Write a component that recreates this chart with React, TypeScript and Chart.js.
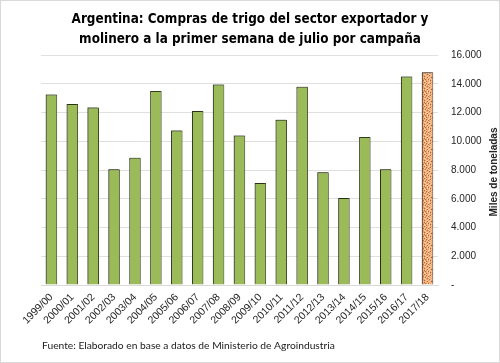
import React, { useEffect, useRef } from "react";
import { Chart, registerables } from "chart.js";

Chart.register(...registerables);

const campaigns = [
  "1999/00", "2000/01", "2001/02", "2002/03", "2003/04", "2004/05", "2005/06",
  "2006/07", "2007/08", "2008/09", "2009/10", "2010/11", "2011/12", "2012/13",
  "2013/14", "2014/15", "2015/16", "2016/17", "2017/18",
];
const purchases = [
  13250, 12600, 12350, 8050, 8850, 13500, 10750, 12100, 13950, 10400, 7100,
  11500, 13800, 7850, 6050, 10300, 8050, 14500, 14800,
];
const yTicks = [0, 2000, 4000, 6000, 8000, 10000, 12000, 14000, 16000];
const titleLines = [
  "Argentina: Compras de trigo del sector exportador y",
  "molinero a la primer semana de julio por campaña",
];
const yTitle = "Miles de toneladas";
const sourceText = "Fuente: Elaborado en base a datos de Ministerio de Agroindustria";

const GREEN = "#9bbb59";
const GREEN_BORDER = "#3b4a1e";

function makeSpeckle(): CanvasPattern | string {
  const rows = [
    "abacbaabcaba",
    "bbaaacbabaab",
    "acbabbacabba",
    "bacaabaabcab",
    "abbacabbaaba",
    "cabbabacbbac",
    "abaacbabaaba",
    "babaacabcbab",
    "aabcbaababca",
    "cbaabbcaabab",
    "abbacababbaa",
    "babaabcabacb",
  ];
  const colors: Record<string, string> = { a: "#eba26b", b: "#f6cca4", c: "#c4672e" };
  const c = document.createElement("canvas");
  c.width = 12;
  c.height = 12;
  const x = c.getContext("2d");
  if (!x) return "#eba26b";
  rows.forEach((r, j) => {
    for (let i = 0; i < r.length; i++) {
      x.fillStyle = colors[r[i]];
      x.fillRect(i, j, 1, 1);
    }
  });
  const p = x.createPattern(c, "repeat");
  return p || "#eba26b";
}

function fmt(v: number): string {
  if (v === 0) return "-";
  return String(v).replace(/\B(?=(\d{3})+(?!\d))/g, ".");
}

function fitFont(ctx: CanvasRenderingContext2D, text: string, weight: string, family: string, target: number): string {
  ctx.font = `${weight} 20px ${family}`;
  const w = ctx.measureText(text).width;
  const size = (20 * target) / w;
  return `${weight} ${size.toFixed(2)}px ${family}`;
}

export default function App() {
  const ref = useRef<HTMLCanvasElement | null>(null);

  useEffect(() => {
    const canvas = ref.current;
    if (!canvas) return;
    const speckle = makeSpeckle();
    const last = campaigns.length - 1;

    const decor = {
      id: "decor",
      beforeDatasetsDraw(chart: any) {
        const ctx = chart.ctx;
        ctx.save();
        ctx.shadowColor = "rgba(0,0,0,0.35)";
        ctx.shadowOffsetX = -1;
        ctx.shadowOffsetY = -1;
        ctx.shadowBlur = 1;
      },
      afterDatasetsDraw(chart: any) {
        chart.ctx.restore();
      },
      afterDraw(chart: any) {
        const ctx = chart.ctx;
        ctx.save();
        ctx.fillStyle = "#000";
        ctx.textAlign = "center";
        ctx.textBaseline = "alphabetic";
        const fam = "'DejaVu Sans Condensed', 'DejaVu Sans', sans-serif";
        ctx.font = fitFont(ctx, titleLines[0], "bold", fam, 357);
        ctx.fillText(titleLines[0], 250, 23);
        ctx.fillText(titleLines[1], 250, 43);

        ctx.textAlign = "left";
        ctx.font = fitFont(ctx, sourceText, "normal", "Lato", 293);
        ctx.fillStyle = "#1a1a1a";
        ctx.fillText(sourceText, 42, 349);

        ctx.translate(497, 172);
        ctx.rotate(-Math.PI / 2);
        ctx.textAlign = "center";
        ctx.font = "bold 10px 'Liberation Sans'";
        ctx.fillStyle = "#262626";
        ctx.fillText(yTitle, 0, 0);
        ctx.restore();

        ctx.save();
        ctx.strokeStyle = "#d9d9d9";
        ctx.lineWidth = 1;
        ctx.strokeRect(0.5, 0.5, 499, 362);
        ctx.restore();
      },
    };

    const chart = new Chart(canvas, {
      type: "bar",
      data: {
        labels: campaigns,
        datasets: [
          {
            data: purchases,
            backgroundColor: purchases.map((_, i) => (i === last ? speckle : GREEN)) as any,
            borderColor: purchases.map((_, i) => (i === last ? "#5b4636" : GREEN_BORDER)),
            borderWidth: 1,
            barPercentage: 0.55,
            categoryPercentage: 1,
          },
        ],
      },
      options: {
        responsive: false,
        animation: false,
        layout: { padding: { top: 55, left: 41, right: 0, bottom: 0 } },
        plugins: {
          legend: { display: false },
          tooltip: { enabled: false },
          title: { display: false },
        },
        scales: {
          x: {
            grid: { display: false, drawTicks: false },
            border: { display: true, color: "#d9d9d9" },
            ticks: {
              minRotation: 45,
              maxRotation: 45,
              autoSkip: false,
              padding: 6,
              color: "#262626",
              font: { family: "'Liberation Sans'", size: 10.5 },
            },
            afterFit(scale: any) {
              scale.height = 78;
            },
          },
          y: {
            position: "right",
            min: 0,
            max: 16000,
            afterBuildTicks(scale: any) {
              scale.ticks = yTicks.map((v) => ({ value: v }));
            },
            grid: { color: "#e0e0e0", drawTicks: false },
            border: { display: false },
            ticks: {
              padding: 13,
              color: "#262626",
              font: { family: "'Liberation Sans'", size: 10 },
              callback: (v: any) => fmt(Number(v)),
            },
            afterFit(scale: any) {
              scale.width = 62;
            },
          },
        },
      },
      plugins: [decor],
    });

    return () => chart.destroy();
  }, []);

  return (
    <div style={{ position: "absolute", left: 0, top: 0, width: 500, height: 363, background: "#fff" }}>
      <canvas ref={ref} width={500} height={363} />
    </div>
  );
}
